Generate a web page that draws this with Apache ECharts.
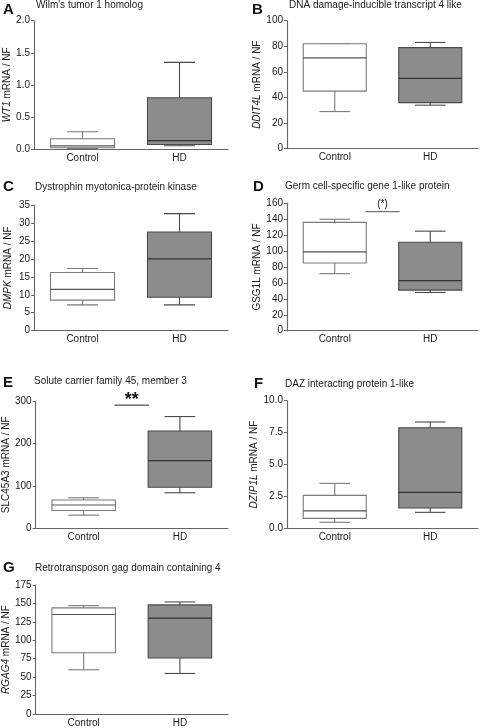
<!DOCTYPE html>
<html>
<head>
<meta charset="utf-8">
<script src="https://cdn.jsdelivr.net/npm/echarts@6/dist/echarts.min.js"></script>
<style>
html,body{margin:0;padding:0;background:#fff;}
#chart{width:480px;height:728px;}
</style>
</head>
<body>
<div id="chart"></div>
<script>
// ---- data ----
const categories = ['Control', 'HD'];
// each box: [min, Q1, median, Q3, max]
const wt1Control = [0.01, 0.02, 0.05, 0.16, 0.27];
const wt1HD = [0.05, 0.07, 0.13, 0.80, 1.35];
const ddit4lControl = [29, 45, 71, 82, 82];
const ddit4lHD = [34, 36, 55, 79, 83];
const dmpkControl = [7.2, 8.5, 11.5, 16.2, 17.3];
const dmpkHD = [7.2, 9.3, 20.0, 27.5, 32.6];
const gsg1lControl = [71.6, 85, 99, 136, 140];
const gsg1lHD = [48, 51, 63, 111, 125];
const slc45a3Control = [31, 42, 55, 67, 72];
const slc45a3HD = [84, 97, 160, 230, 264];
const dzip1lControl = [0.47, 0.78, 1.36, 2.58, 3.52];
const dzip1lHD = [1.25, 1.59, 2.82, 7.88, 8.33];
const rgag4Control = [60, 83, 135, 144, 147];
const rgag4HD = [55, 76, 130, 148, 152];

const panelLetters = ['A', 'B', 'C', 'D', 'E', 'F', 'G'];
const panelTitles = [
  "Wilm's tumor 1 homolog",
  'DNA damage-inducible transcript 4 like',
  'Dystrophin myotonica-protein kinase',
  'Germ cell-specific gene 1-like protein',
  'Solute carrier family 45, member 3',
  'DAZ interacting protein 1-like',
  'Retrotransposon gag domain containing 4'
];
const geneNames = ['WT1', 'DDIT4L', 'DMPK', 'GSG1L', 'SLC45A3', 'DZIP1L', 'RGAG4'];
const yMaxes = [2.0, 100, 35, 160, 300, 10, 175];
const yIntervals = [0.5, 20, 5, 20, 100, 2.5, 25];
const yDecimals = [1, 0, 0, 0, 0, 1, 0];
const controlBoxes = [wt1Control, ddit4lControl, dmpkControl, gsg1lControl, slc45a3Control, dzip1lControl, rgag4Control];
const hdBoxes = [wt1HD, ddit4lHD, dmpkHD, gsg1lHD, slc45a3HD, dzip1lHD, rgag4HD];
// significance annotations: panel index, bar value, label
const sigPanels = [3, 4];
const sigValues = [149.5, 291];
const sigLabels = ['(*)', '**'];

// ---- layout (pixels) ----
const grids = [
  {left: 34, top: 20.7, width: 194, height: 128.3},
  {left: 287, top: 20.7, width: 191, height: 128},
  {left: 34, top: 205, width: 194, height: 125.7},
  {left: 287, top: 203.3, width: 191, height: 127.4},
  {left: 33, top: 401.3, width: 195, height: 127},
  {left: 287, top: 400.7, width: 191, height: 127.6},
  {left: 34, top: 585, width: 194, height: 129}
];
const letterPos = [[3, 9.5], [252, 9.5], [3, 187], [253, 187], [3, 383], [254, 384], [3, 568]];
const titlePos = [[36, 5.5], [289, 5.5], [35, 187], [285, 186.5], [34, 381.5], [285, 384.5], [35, 568]];
const nameGaps = [21, 25, 21, 24, 21, 24, 22];
const italicGene = [true, true, true, false, false, true, true];

const FONT = '"Liberation Sans", Arial, sans-serif';
const AXIS_COLOR = '#666666';
const TEXT_COLOR = '#1a1a1a';

const option = {
  animation: false,
  backgroundColor: '#ffffff',
  title: [],
  grid: [],
  xAxis: [],
  yAxis: [],
  series: []
};

function boxRender(params, api) {
  const x = api.value(0);
  const vMin = api.value(1), q1 = api.value(2), med = api.value(3), q3 = api.value(4), vMax = api.value(5);
  const band = api.size([1, 0])[0];
  const bw = band * 0.66;
  const cw = band * 0.32;
  const cx = api.coord([x, med])[0];
  const yMin = api.coord([x, vMin])[1];
  const yQ1 = api.coord([x, q1])[1];
  const yMed = api.coord([x, med])[1];
  const yQ3 = api.coord([x, q3])[1];
  const yMax = api.coord([x, vMax])[1];
  const isHD = x === 1;
  const stroke = isHD ? '#4a4a4a' : '#7a7a7a';
  const fill = isHD ? '#8c8c8c' : '#ffffff';
  const lw = 1.1;
  const ls = {stroke: stroke, lineWidth: lw};
  return {
    type: 'group',
    children: [
      {type: 'line', shape: {x1: cx, y1: yQ3, x2: cx, y2: yMax}, style: ls},
      {type: 'line', shape: {x1: cx, y1: yQ1, x2: cx, y2: yMin}, style: ls},
      {type: 'line', shape: {x1: cx - cw / 2, y1: yMax, x2: cx + cw / 2, y2: yMax}, style: ls},
      {type: 'line', shape: {x1: cx - cw / 2, y1: yMin, x2: cx + cw / 2, y2: yMin}, style: ls},
      {type: 'rect', shape: {x: cx - bw / 2, y: yQ3, width: bw, height: yQ1 - yQ3},
        style: {fill: fill, stroke: stroke, lineWidth: lw}},
      {type: 'line', shape: {x1: cx - bw / 2, y1: yMed, x2: cx + bw / 2, y2: yMed},
        style: {stroke: isHD ? '#333333' : '#555555', lineWidth: 1.2}}
    ]
  };
}

function makeSigRender(label) {
  return function (params, api) {
    const v = api.value(0);
    const p0 = api.coord([0, v]);
    const p1 = api.coord([1, v]);
    const mid = (p0[0] + p1[0]) / 2;
    const band = p1[0] - p0[0];
    const half = band * 0.18;
    const isStars = label === '**';
    return {
      type: 'group',
      children: [
        {type: 'line', shape: {x1: mid - half, y1: p0[1], x2: mid + half, y2: p0[1]},
          style: {stroke: isStars ? '#222' : '#555', lineWidth: 1}},
        {type: 'text', x: mid, y: isStars ? p0[1] + 4 : p0[1] - 2,
          style: {text: label, x: 0, y: 0, align: 'center', verticalAlign: 'bottom',
            fill: '#111', font: (isStars ? 'bold 18px ' : '10px ') + FONT}}
      ]
    };
  };
}

for (let i = 0; i < 7; i++) {
  option.title.push({
    text: panelLetters[i], left: letterPos[i][0], top: letterPos[i][1] - 8.5, padding: 0,
    textStyle: {fontFamily: FONT, fontWeight: 'bold', fontSize: 15, color: '#111', lineHeight: 17}
  });
  option.title.push({
    text: panelTitles[i], left: titlePos[i][0], top: titlePos[i][1] - 6, padding: 0,
    textStyle: {fontFamily: FONT, fontWeight: 'normal', fontSize: 10, color: TEXT_COLOR, lineHeight: 12}
  });
  option.grid.push(Object.assign({containLabel: false}, grids[i]));
  option.xAxis.push({
    type: 'category', gridIndex: i, data: categories,
    axisLine: {lineStyle: {color: AXIS_COLOR, width: 1.1}},
    axisTick: {alignWithLabel: true, length: 3, lineStyle: {color: AXIS_COLOR}},
    axisLabel: {fontFamily: FONT, fontSize: 10, color: TEXT_COLOR, margin: 4},
    splitLine: {show: false}
  });
  const dec = yDecimals[i];
  option.yAxis.push({
    type: 'value', gridIndex: i, min: 0, max: yMaxes[i], interval: yIntervals[i],
    name: '{g|' + geneNames[i] + '} mRNA / NF',
    nameLocation: 'middle', nameGap: nameGaps[i], nameRotate: 90,
    nameTextStyle: {
      fontFamily: FONT, fontSize: 10, color: TEXT_COLOR,
      rich: {g: {fontFamily: FONT, fontSize: 10, color: TEXT_COLOR, fontStyle: italicGene[i] ? 'italic' : 'normal'}}
    },
    axisLine: {show: true, lineStyle: {color: AXIS_COLOR, width: 1.1}},
    axisTick: {show: true, length: 3, lineStyle: {color: AXIS_COLOR}},
    axisLabel: {fontFamily: FONT, fontSize: 10, color: TEXT_COLOR, margin: 4,
      formatter: function (v) { return v.toFixed(dec); }},
    splitLine: {show: false}
  });
  option.series.push({
    type: 'custom', xAxisIndex: i, yAxisIndex: i,
    renderItem: boxRender,
    encode: {x: 0, y: [1, 2, 3, 4, 5]},
    data: [[0].concat(controlBoxes[i]), [1].concat(hdBoxes[i])],
    silent: true, clip: false
  });
}

for (let k = 0; k < sigPanels.length; k++) {
  const i = sigPanels[k];
  option.series.push({
    type: 'custom', xAxisIndex: i, yAxisIndex: i,
    renderItem: makeSigRender(sigLabels[k]),
    encode: {y: 0},
    data: [[sigValues[k]]],
    silent: true, clip: false
  });
}

const chart = echarts.init(document.getElementById('chart'), null, {renderer: 'canvas'});
chart.setOption(option);
</script>
</body>
</html>
